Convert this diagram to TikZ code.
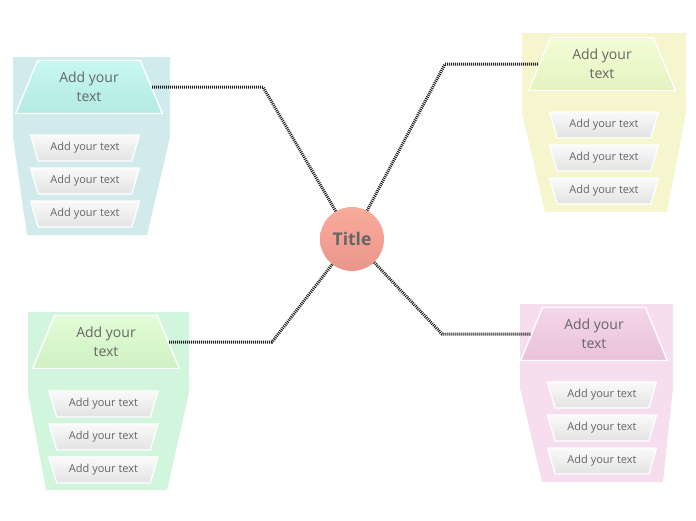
\documentclass[tikz,border=0pt]{standalone}
\usepackage{fontspec}
\setmainfont{Open Sans}
\usetikzlibrary{shapes.geometric}
\definecolor{txt}{HTML}{666666}
\definecolor{bgA}{HTML}{D1EBED}\definecolor{hAt}{HTML}{C6F8F1}\definecolor{hAb}{HTML}{B3EAE2}
\definecolor{bgB}{HTML}{F5F6CE}\definecolor{hBt}{HTML}{F3FDD6}\definecolor{hBb}{HTML}{E4F3C2}
\definecolor{bgC}{HTML}{D2F5DE}\definecolor{hCt}{HTML}{E2FDD6}\definecolor{hCb}{HTML}{D0F0C4}
\definecolor{bgD}{HTML}{F6DEEE}\definecolor{hDt}{HTML}{F5D6EA}\definecolor{hDb}{HTML}{E8C2DA}
\definecolor{circT}{HTML}{FAAB9C}\definecolor{circB}{HTML}{E9968A}
\definecolor{connc}{HTML}{222222}
\tikzset{
  panel/.style={draw=none},
  hdr/.style={trapezium, trapezium left angle=67, trapezium right angle=67,
    trapezium stretches=true, minimum width=148pt, minimum height=53pt,
    inner sep=0pt, draw=white, line width=1.3pt, text=txt, align=center,
    font=\fontsize{14}{19}\selectfont},
  itm/.style={trapezium, shape border rotate=180, trapezium left angle=62,
    trapezium right angle=62, trapezium stretches=true, minimum width=110pt,
    minimum height=26pt, inner sep=0pt, draw=white, line width=1.2pt,
    top color=white!98!black, bottom color=black!11, text=txt,
    font=\fontsize{11}{13}\selectfont},
  conn/.style={draw=connc, line width=3pt, dash pattern=on 1pt off 1pt},
  ttl/.style={circle, minimum size=64pt, inner sep=0pt, top color=circT,
    bottom color=circB, text=txt, font=\fontsize{17.5}{20}\selectfont\bfseries}
}
\begin{document}
\begin{tikzpicture}[x=1pt,y=-1pt]
\useasboundingbox (0,0) rectangle (696,520);
% panels
\fill[panel,bgA] (13,57) -- (170,57) -- (170,137) -- (147,235) -- (27,235) -- (13,137) -- cycle;
\fill[panel,bgB] (522,33) -- (686,33) -- (686,113) -- (667,212) -- (545,212) -- (522,113) -- cycle;
\fill[panel,bgC] (28,312) -- (189,312) -- (189,393) -- (167,490) -- (46,490) -- (28,393) -- cycle;
\fill[panel,bgD] (520,304) -- (673,304) -- (673,388) -- (663,482) -- (542,482) -- (520,388) -- cycle;
% headers
\node[hdr, top color=hAt, bottom color=hAb] (h1) at (89,87) {Add your\\text};
\node[hdr, top color=hBt, bottom color=hBb] (h2) at (602,64) {Add your\\text};
\node[hdr, top color=hCt, bottom color=hCb] (h3) at (106,342) {Add your\\text};
\node[hdr, top color=hDt, bottom color=hDb] (h4) at (594,334) {Add your\\text};
% items
\node[itm] (a1) at (85,148) {Add your text};
\node[itm] (a2) at (85,181) {Add your text};
\node[itm] (a3) at (85,214) {Add your text};
\node[itm] (b1) at (604,125) {Add your text};
\node[itm] (b2) at (604,158) {Add your text};
\node[itm] (b3) at (604,191) {Add your text};
\node[itm] (c1) at (103.5,404) {Add your text};
\node[itm] (c2) at (103.5,437) {Add your text};
\node[itm] (c3) at (103.5,470) {Add your text};
\node[itm] (d1) at (602,395) {Add your text};
\node[itm] (d2) at (602,428) {Add your text};
\node[itm] (d3) at (602,461) {Add your text};
% title
\node[ttl] (title) at (352,239) {Title};
% connectors
\coordinate (k1) at (263,87);
\coordinate (k2) at (445,64);
\coordinate (k3) at (272,342);
\coordinate (k4) at (442,334);
\draw[conn] (title) -- (k1) -- (h1);
\draw[conn] (title) -- (k2) -- (h2);
\draw[conn] (title) -- (k3) -- (h3);
\draw[conn] (title) -- (k4) -- (h4);
\end{tikzpicture}
\end{document}
